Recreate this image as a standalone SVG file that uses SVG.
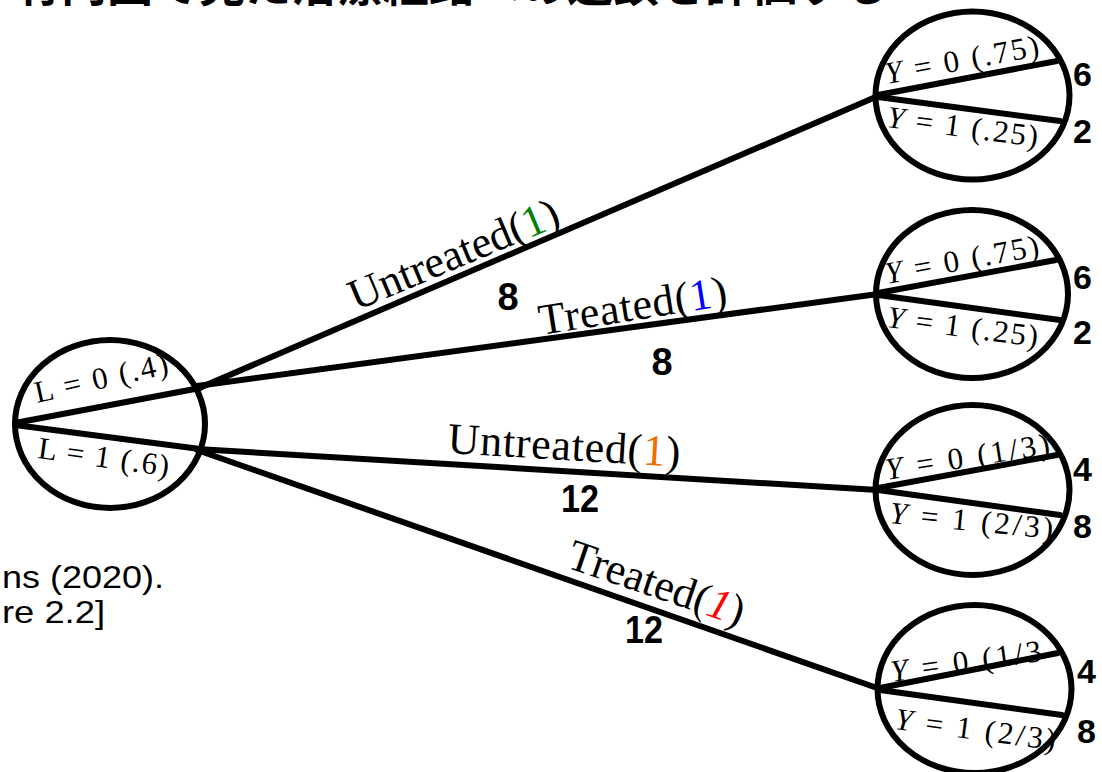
<svg xmlns="http://www.w3.org/2000/svg" width="1102" height="772" viewBox="0 0 1102 772">
  <style>
    .node { fill: none; stroke: #000; stroke-width: 6; }
    .split { stroke: #000; stroke-width: 6; stroke-linecap: round; }
    .edge { stroke: #000; stroke-width: 6; stroke-linecap: round; fill: none; }
    .math { font-family: "Liberation Serif", "DejaVu Serif", serif; fill: #000; }
    .var { font-style: italic; }
    .count { font-family: "Liberation Sans", Arial, sans-serif; font-weight: bold; fill: #000; }
    .note { font-family: "Liberation Sans", Arial, sans-serif; fill: #000; font-size: 32px; }
    .title { font-family: "Noto Sans CJK JP", "Noto Sans CJK SC", sans-serif; font-weight: bold; font-size: 46px; fill: #000; }
  </style>

  <!-- slide title, mostly above the visible area -->
  <text class="title" x="15" y="1">有向図で見た治療経路への連鎖を評価する</text>

  <!-- citation fragment -->
  <text class="note" x="2" y="588" textLength="162" lengthAdjust="spacingAndGlyphs">ns (2020).</text>
  <text class="note" x="2" y="623" textLength="103" lengthAdjust="spacingAndGlyphs">re 2.2]</text>

  <!-- branches from the L node to the Y nodes -->
  <g id="connectors">
    <line class="edge" x1="197" y1="389" x2="878" y2="96"/>
    <line class="edge" x1="197" y1="386" x2="878" y2="294"/>
    <line class="edge" x1="197" y1="449" x2="878" y2="490"/>
    <line class="edge" x1="197" y1="450" x2="880" y2="689"/>

    <text class="math" font-size="44" transform="translate(356,311) rotate(-22.8)" textLength="224" lengthAdjust="spacing">Untreated(<tspan fill="#008000">1</tspan>)</text>
    <text class="count" font-size="38" x="508" y="310" text-anchor="middle">8</text>

    <text class="math" font-size="44" transform="translate(541,335) rotate(-9)" textLength="190" lengthAdjust="spacing">Treated(<tspan fill="#0000ff">1</tspan>)</text>
    <text class="count" font-size="38" x="662" y="375" text-anchor="middle">8</text>

    <text class="math" font-size="44" transform="translate(447,453) rotate(3.4)" textLength="233" lengthAdjust="spacing">Untreated(<tspan fill="#f26b00">1</tspan>)</text>
    <text class="count" font-size="38" x="580" y="512" text-anchor="middle" textLength="38" lengthAdjust="spacingAndGlyphs">12</text>

    <text class="math" font-size="44" transform="translate(565,567) rotate(18.8)" textLength="184" lengthAdjust="spacing">Treated(<tspan fill="#ff0000" class="var">1</tspan>)</text>
    <text class="count" font-size="38" x="644" y="643" text-anchor="middle" textLength="38" lengthAdjust="spacingAndGlyphs">12</text>
  </g>

  <!-- root node: L -->
  <g id="node-L">
    <line class="split" x1="15" y1="423" x2="200" y2="388"/>
    <line class="split" x1="15" y1="425" x2="200" y2="449"/>
    <text class="math" font-size="31" transform="translate(37,403) rotate(-12.6)" textLength="136" lengthAdjust="spacing">L = 0 (.4)</text>
    <text class="math" font-size="31" transform="translate(37,458) rotate(8)" textLength="132" lengthAdjust="spacing">L = 1 (.6)</text>
    <ellipse class="node" cx="110" cy="424" rx="95" ry="84"/>
  </g>

  <!-- outcome node: L = 0, untreated -->
  <g id="node-Y1">
    <line class="split" x1="878" y1="95" x2="1057" y2="61"/>
    <line class="split" x1="878" y1="97" x2="1060" y2="121"/>
    <text class="math" font-size="31" transform="translate(887,84) rotate(-10.5)" textLength="156" lengthAdjust="spacing"><tspan class="var">Y</tspan> = 0 (.75)</text>
    <text class="math" font-size="31" transform="translate(886,127) rotate(7.5)" textLength="152" lengthAdjust="spacing"><tspan class="var">Y</tspan> = 1 (.25)</text>
    <ellipse class="node" cx="972.5" cy="95.5" rx="97" ry="84"/>
    <text class="count" font-size="34" x="1073" y="86">6</text>
    <text class="count" font-size="34" x="1073" y="143">2</text>
  </g>

  <!-- outcome node: L = 0, treated -->
  <g id="node-Y2">
    <line class="split" x1="878" y1="293" x2="1056" y2="260"/>
    <line class="split" x1="878" y1="295" x2="1060" y2="320"/>
    <text class="math" font-size="31" transform="translate(887,284) rotate(-10.5)" textLength="156" lengthAdjust="spacing"><tspan class="var">Y</tspan> = 0 (.75)</text>
    <text class="math" font-size="31" transform="translate(886,327) rotate(7.5)" textLength="152" lengthAdjust="spacing"><tspan class="var">Y</tspan> = 1 (.25)</text>
    <ellipse class="node" cx="972" cy="294" rx="96" ry="84"/>
    <text class="count" font-size="34" x="1073" y="289">6</text>
    <text class="count" font-size="34" x="1073" y="344">2</text>
  </g>

  <!-- outcome node: L = 1, untreated -->
  <g id="node-Y3">
    <line class="split" x1="878" y1="488" x2="1057" y2="455"/>
    <line class="split" x1="878" y1="490" x2="1060" y2="515"/>
    <text class="math" font-size="31" transform="translate(887,480) rotate(-9)" textLength="166" lengthAdjust="spacing"><tspan class="var">Y</tspan> = 0 (1/3)</text>
    <text class="math" font-size="31" transform="translate(889,523) rotate(5.5)" textLength="164" lengthAdjust="spacing"><tspan class="var">Y</tspan> = 1 (2/3)</text>
    <ellipse class="node" cx="972.5" cy="490" rx="97" ry="85"/>
    <text class="count" font-size="34" x="1073" y="481">4</text>
    <text class="count" font-size="34" x="1073" y="538">8</text>
  </g>

  <!-- outcome node: L = 1, treated -->
  <g id="node-Y4">
    <line class="split" x1="880" y1="688" x2="1058" y2="653"/>
    <line class="split" x1="880" y1="690" x2="1062" y2="715"/>
    <text class="math" font-size="31" transform="translate(892,682) rotate(-8)" textLength="152" lengthAdjust="spacing"><tspan class="var">Y</tspan> = 0 (1/3</text>
    <text class="math" font-size="31" transform="translate(894,729) rotate(7.5)" textLength="162" lengthAdjust="spacing"><tspan class="var">Y</tspan> = 1 (2/3)</text>
    <ellipse class="node" cx="974.5" cy="689" rx="97" ry="84"/>
    <text class="count" font-size="34" x="1077" y="683">4</text>
    <text class="count" font-size="34" x="1077" y="743">8</text>
  </g>
</svg>
